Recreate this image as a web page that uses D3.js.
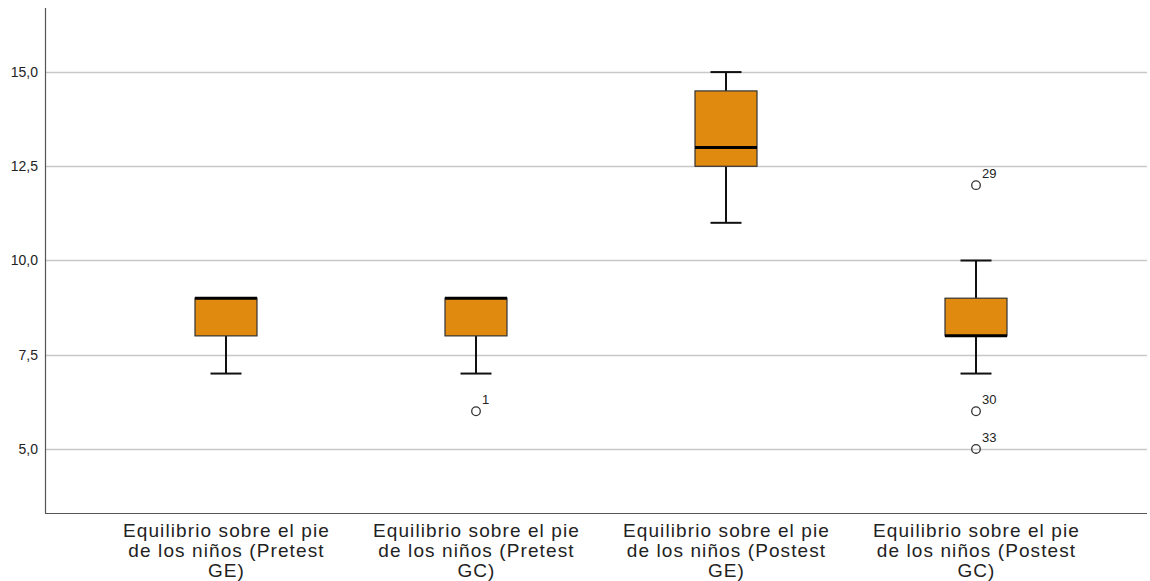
<!DOCTYPE html>
<html>
<head>
<meta charset="utf-8">
<script src="https://cdn.jsdelivr.net/npm/d3@7"></script>
<style>
  html, body { margin: 0; padding: 0; background: #fff; }
  svg { display: block; font-family: "Liberation Sans", Arial, sans-serif; }
</style>
</head>
<body>
<svg id="chart" width="1150" height="581"></svg>
<script>
// Box plot summaries for each test group
const categories = [
  "Equilibrio sobre el pie de los niños (Pretest GE)",
  "Equilibrio sobre el pie de los niños (Pretest GC)",
  "Equilibrio sobre el pie de los niños (Postest GE)",
  "Equilibrio sobre el pie de los niños (Postest GC)"
];
const categoryLines = [
  ["Equilibrio sobre el pie", "de los niños (Pretest", "GE)"],
  ["Equilibrio sobre el pie", "de los niños (Pretest", "GC)"],
  ["Equilibrio sobre el pie", "de los niños (Postest", "GE)"],
  ["Equilibrio sobre el pie", "de los niños (Postest", "GC)"]
];
const whiskerLow  = [7, 7, 11, 7];
const q1Values    = [8, 8, 12.5, 8];
const medians     = [9, 9, 13, 8];
const q3Values    = [9, 9, 14.5, 9];
const whiskerHigh = [9, 9, 15, 10];
// outliers: [category index, value, case label]
const outliers = [
  [1, 6, "1"],
  [3, 12, "29"],
  [3, 6, "30"],
  [3, 5, "33"]
];
const yTicks = [5, 7.5, 10, 12.5, 15];

const svg = d3.select("#chart");
const plot = { left: 45, right: 1147, top: 8, bottom: 513 };

const x = d3.scaleBand().domain(categories).range([101, 1101]);
const y = d3.scaleLinear().domain([3.3, 16.7]).range([plot.bottom, plot.top]);

const fmt = v => d3.format(".1f")(v).replace(".", ",");

// horizontal grid lines
svg.append("g")
  .selectAll("line")
  .data(yTicks)
  .join("line")
  .attr("x1", plot.left).attr("x2", plot.right)
  .attr("y1", d => Math.round(y(d)) + 0.5).attr("y2", d => Math.round(y(d)) + 0.5)
  .attr("stroke", "#c8c8c8").attr("stroke-width", 1.5);

// y axis
const yAxis = d3.axisLeft(y).tickValues(yTicks).tickFormat(fmt).tickSize(0).tickPadding(7);
const gy = svg.append("g").attr("transform", `translate(${plot.left},0)`).call(yAxis);
gy.select(".domain").remove();
gy.selectAll("text").attr("font-size", 14).attr("fill", "#222")
  .attr("font-family", "Liberation Sans, Arial, sans-serif");

// axis frame lines
svg.append("line").attr("x1", plot.left + 0.5).attr("x2", plot.left + 0.5).attr("y1", plot.top).attr("y2", plot.bottom)
  .attr("stroke", "#555").attr("stroke-width", 1.2);
svg.append("line").attr("x1", plot.left).attr("x2", plot.right).attr("y1", plot.bottom + 0.5).attr("y2", plot.bottom + 0.5)
  .attr("stroke", "#555").attr("stroke-width", 1.2);

// boxes
const boxW = 62, capW = 31;
const boxes = svg.append("g");
categories.forEach((c, i) => {
  const cx = x(c) + x.bandwidth() / 2;
  const g = boxes.append("g");
  // whiskers
  g.append("line").attr("x1", cx).attr("x2", cx)
    .attr("y1", y(whiskerLow[i])).attr("y2", y(q1Values[i]))
    .attr("stroke", "#111").attr("stroke-width", 2);
  g.append("line").attr("x1", cx).attr("x2", cx)
    .attr("y1", y(q3Values[i])).attr("y2", y(whiskerHigh[i]))
    .attr("stroke", "#111").attr("stroke-width", 2);
  // caps
  [whiskerLow[i], whiskerHigh[i]].forEach(v => {
    g.append("line").attr("x1", cx - capW / 2).attr("x2", cx + capW / 2)
      .attr("y1", y(v)).attr("y2", y(v))
      .attr("stroke", "#111").attr("stroke-width", 2);
  });
  // box
  g.append("rect")
    .attr("x", cx - boxW / 2).attr("width", boxW)
    .attr("y", y(q3Values[i])).attr("height", y(q1Values[i]) - y(q3Values[i]))
    .attr("fill", "#e08a10").attr("stroke", "#333").attr("stroke-width", 1.2);
  // median
  g.append("line").attr("x1", cx - boxW / 2).attr("x2", cx + boxW / 2)
    .attr("y1", y(medians[i])).attr("y2", y(medians[i]))
    .attr("stroke", "#000").attr("stroke-width", 3);
});

// outliers
const og = svg.append("g");
outliers.forEach(([i, v, lab]) => {
  const cx = x(categories[i]) + x.bandwidth() / 2;
  og.append("circle").attr("cx", cx).attr("cy", y(v)).attr("r", 4.3)
    .attr("fill", "none").attr("stroke", "#333").attr("stroke-width", 1.3);
  og.append("text").attr("x", cx + 6).attr("y", y(v) - 7)
    .attr("font-size", 13).attr("fill", "#222").text(lab);
});

// category labels
const lg = svg.append("g");
categories.forEach((c, i) => {
  const cx = x(c) + x.bandwidth() / 2;
  const t = lg.append("text").attr("text-anchor", "middle").attr("font-size", 19)
    .attr("letter-spacing", 1.1).attr("fill", "#222");
  categoryLines[i].forEach((line, k) => {
    t.append("tspan").attr("x", cx + 0.5).attr("y", 537 + k * 20).text(line);
  });
});
</script>
</body>
</html>
